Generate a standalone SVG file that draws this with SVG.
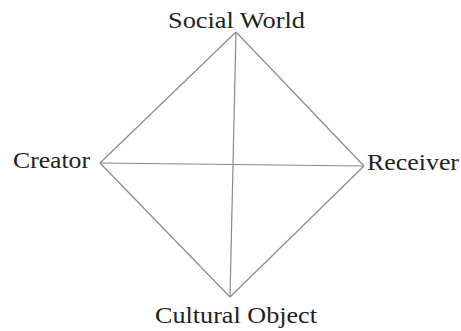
<svg xmlns="http://www.w3.org/2000/svg" width="461" height="331" viewBox="0 0 461 331">
<style>
.lbl{font-family:"Liberation Serif","Times New Roman",serif;font-size:24px;fill:#222}
.edge{stroke:#8a8a8a;stroke-width:1.2;fill:none}
</style>
<rect width="461" height="331" fill="#fff"/>
<g id="connectors">
<line class="edge" x1="236" y1="32" x2="100" y2="163"/>
<line class="edge" x1="236" y1="32" x2="364" y2="166"/>
<line class="edge" x1="100" y1="163" x2="230" y2="297"/>
<line class="edge" x1="364" y1="166" x2="230" y2="297"/>
<line class="edge" x1="100" y1="163" x2="364" y2="166"/>
<line class="edge" x1="236" y1="32" x2="230" y2="297"/>
</g>
<g id="social-world"><text class="lbl" x="168" y="28" textLength="137" lengthAdjust="spacingAndGlyphs">Social World</text></g>
<g id="creator"><text class="lbl" x="13" y="168" textLength="77" lengthAdjust="spacingAndGlyphs">Creator</text></g>
<g id="receiver"><text class="lbl" x="367" y="170" textLength="92" lengthAdjust="spacingAndGlyphs">Receiver</text></g>
<g id="cultural-object"><text class="lbl" x="155" y="323" textLength="162" lengthAdjust="spacingAndGlyphs">Cultural Object</text></g>
</svg>
